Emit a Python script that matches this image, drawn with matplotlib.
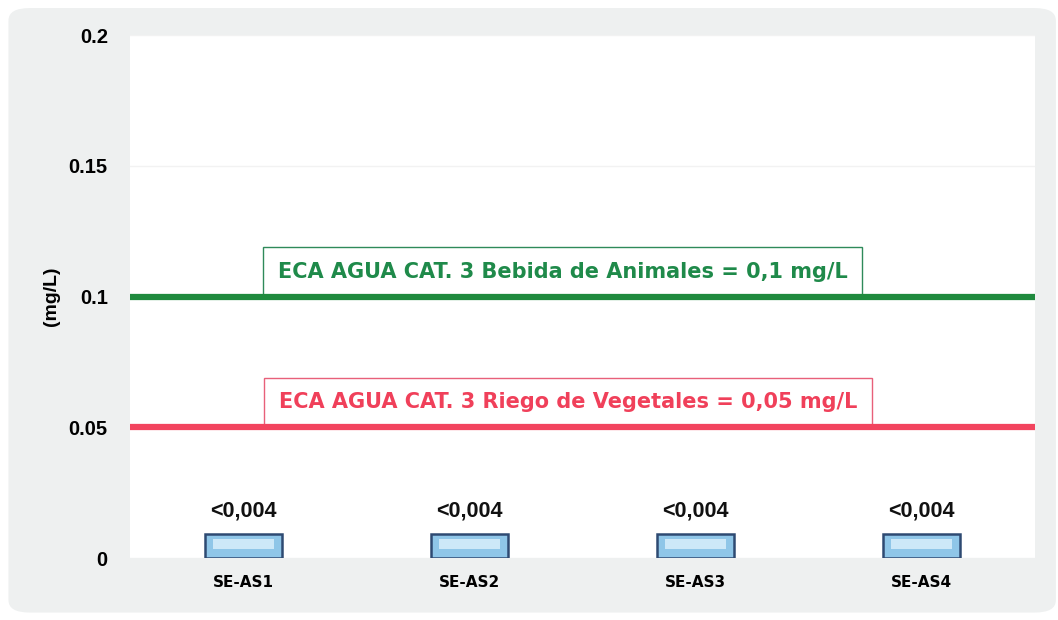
import numpy as np
import matplotlib.pyplot as plt
from matplotlib.patches import FancyBboxPatch

sites = ['SE-AS1', 'SE-AS2', 'SE-AS3', 'SE-AS4']
bar_values = [0.009, 0.009, 0.009, 0.009]
bar_labels = ['<0,004', '<0,004', '<0,004', '<0,004']
eca_animales = 0.1
eca_vegetales = 0.05
yticks = [0, 0.05, 0.1, 0.15, 0.2]
yticklabels = ['0', '0.05', '0.1', '0.15', '0.2']

fig = plt.figure(figsize=(10.58, 6.2), dpi=100, facecolor='white')
panel = FancyBboxPatch((0.008, 0.012), 0.99, 0.975, boxstyle='round,pad=0,rounding_size=0.02',
                       transform=fig.transFigure, facecolor='#eef0f0', edgecolor='none', zorder=-5)
fig.patches.append(panel)

ax = fig.add_axes([0.1229, 0.1, 0.855, 0.8435])
ax.set_facecolor('white')
for s in ax.spines.values():
    s.set_visible(False)

x = np.arange(len(sites))
ax.set_xlim(-0.5, 3.5)
ax.set_ylim(0, 0.2)
ax.set_yticks(yticks)
ax.set_yticklabels(yticklabels, fontfamily='Liberation Sans', fontweight='bold', fontsize=14.5)
ax.set_xticks(x)
ax.set_xticklabels(sites, fontfamily='DejaVu Sans', fontweight='bold', fontsize=11)
ax.tick_params(length=0, pad=12)
ax.tick_params(axis='y', pad=16)
ax.grid(axis='y', color='#f2f2f2', linewidth=1)
ax.set_axisbelow(True)
ax.set_ylabel('(mg/L)', fontfamily='Liberation Sans', fontweight='bold', fontsize=14, labelpad=6)

# bars with bevel look
ax.bar(x, bar_values, width=0.34, color='#8fc6e8', edgecolor='#2e4a72', linewidth=1.8, zorder=3)
ax.bar(x, [v * 0.4 for v in bar_values], bottom=[v * 0.4 for v in bar_values], width=0.27,
       color='#cde8f8', edgecolor='none', zorder=4)
for xi, v, lab in zip(x, bar_values, bar_labels):
    ax.text(xi, v + 0.005, lab, ha='center', va='bottom', fontfamily='Liberation Sans',
            fontweight='bold', fontsize=15.5, color='#111111')

# reference lines
ax.axhline(eca_animales, color='#1f8a3e', linewidth=4.5, zorder=5)
ax.axhline(eca_vegetales, color='#f2445e', linewidth=4.5, zorder=5)

ax.text(1.414, 0.1095, 'ECA AGUA CAT. 3 Bebida de Animales = 0,1 mg/L',
        ha='center', va='center', fontfamily='DejaVu Sans', fontweight='bold', fontsize=15,
        color='#1f8a4a', zorder=4,
        bbox=dict(boxstyle='square,pad=0.7', facecolor='white', edgecolor='#2f8a5a', linewidth=1))
ax.text(1.436, 0.0595, 'ECA AGUA CAT. 3 Riego de Vegetales = 0,05 mg/L',
        ha='center', va='center', fontfamily='DejaVu Sans', fontweight='bold', fontsize=15,
        color='#f0405a', zorder=4,
        bbox=dict(boxstyle='square,pad=0.7', facecolor='white', edgecolor='#e8607a', linewidth=1))

fig.savefig('out.png', dpi=100, facecolor=fig.get_facecolor())
